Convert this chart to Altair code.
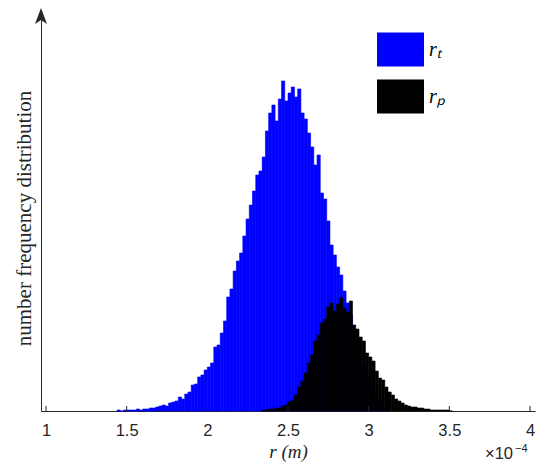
import altair as alt
import pandas as pd

# ---- data (heights in arbitrary count units) ----
bin_width = 0.02
rt_start = 1.44
rt_counts = [1, 0, 1, 1, 1, 1, 2, 1, 2, 2, 3, 3, 4, 5, 6, 5, 8, 9, 10, 14,
             12, 17, 19, 26, 27, 34, 36, 41, 44, 48, 64, 66, 78, 90, 114, 122, 140, 150, 158, 175,
             192, 206, 220, 236, 240, 254, 280, 298, 306, 290, 312, 330, 310, 318, 324, 314, 322, 298, 292, 278,
             264, 246, 256, 218, 212, 190, 166, 156, 144, 136, 120, 108, 96, 82, 70, 56, 46, 36, 28, 20,
             14, 9, 5, 2]
rp_start = 2.34
rp_counts = [1, 1, 2, 2, 3, 3, 5, 6, 9, 11, 16, 24, 30, 38, 48, 56, 70, 76, 88, 92,
             104, 108, 100, 107, 113, 103, 99, 110, 86, 82, 74, 70, 58, 54, 50, 40, 33, 31, 24, 19,
             16, 12, 10, 8, 6, 5, 4, 4, 3, 3, 2, 2, 1, 1, 1, 1, 1, 1, 0]
series_names = ["rₜ", "rₚ"]
series_colors = ["#0000ff", "#000000"]
x_ticks = [1, 1.5, 2, 2.5, 3, 3.5, 4]
x_title = "r (m)"
y_title = "number frequency distribution"
exponent_base = "×10"
exponent_power = "−4"

rows = []
for name, start, counts in [(series_names[0], rt_start, rt_counts),
                            (series_names[1], rp_start, rp_counts)]:
    for i, c in enumerate(counts):
        lo = round(start + i * bin_width, 4)
        rows.append({"series": name, "lo": lo, "hi": round(lo + bin_width, 4), "count": c})
df = pd.DataFrame(rows)

W, H = 494, 399
AX = "#262626"
xscale = alt.Scale(domain=[1, 4], nice=False, zero=False)
yscale = alt.Scale(domain=[0, 399], nice=False)
color_scale = alt.Scale(domain=series_names, range=series_colors)

x_axis = alt.Axis(values=x_ticks, labelFlush=False, ticks=False, grid=False,
                  labelExpr="datum.value == floor(datum.value) ? format(datum.value, 'd') : format(datum.value, '.1f')",
                  domainColor=AX, domainWidth=1, labelFont="Liberation Sans",
                  labelFontSize=16.5, labelColor=AX, labelPadding=11,
                  title=x_title, titleFont="Liberation Serif", titleFontStyle="italic",
                  titleFontWeight="normal", titleFontSize=19, titleColor=AX,
                  titleBaseline="alphabetic", titleY=46)

# tick marks pointing inward (drawn as rules), also carrying the x axis
tick_rules = alt.Chart(pd.DataFrame({"v": x_ticks})).mark_rule(color=AX, strokeWidth=1).encode(
    x=alt.X("v:Q", scale=xscale, axis=x_axis),
    y=alt.value(H),
    y2=alt.value(H - 5),
)

bars = alt.Chart(df).mark_bar(strokeWidth=0.6, orient="vertical").encode(
    x=alt.X("lo:Q", scale=xscale, axis=x_axis),
    x2="hi:Q",
    y=alt.Y("count:Q", scale=yscale,
            axis=alt.Axis(ticks=False, labels=False, grid=False, domainColor=AX, domainWidth=1,
                          title=y_title, titleFont="Liberation Serif", titleFontWeight="normal",
                          titleFontSize=21, titleColor=AX, titleBaseline="middle",
                          titleX=-17, titleY=206, titleAngle=270)),
    y2=alt.datum(0),
    color=alt.Color("series:N", scale=color_scale,
                    legend=alt.Legend(orient="none", legendX=336, legendY=14, title=None,
                                      symbolType="M-1,-0.723H1V0.723H-1Z", symbolSize=2209,
                                      symbolStrokeWidth=0, symbolOpacity=1,
                                      labelFont="Liberation Serif", labelFontStyle="italic",
                                      labelFontSize=20, labelColor="#000000", labelOffset=5,
                                      rowPadding=6, padding=0, symbolOffset=0)),
    stroke=alt.Stroke("series:N", scale=color_scale, legend=None),
)

arrow = alt.Chart(pd.DataFrame({"a": [0]})).mark_point(
    shape="M0,-1L0.75,1L0,0.5L-0.75,1Z", filled=True, size=256, color=AX, opacity=1
).encode(x=alt.value(0), y=alt.value(4))

exp_base = alt.Chart(pd.DataFrame({"t": [exponent_base]})).mark_text(
    font="Liberation Sans", fontSize=16.5, color=AX, align="left", baseline="alphabetic"
).encode(x=alt.value(444), y=alt.value(447), text="t:N")

exp_pow = alt.Chart(pd.DataFrame({"t": [exponent_power]})).mark_text(
    font="Liberation Sans", fontSize=11, color=AX, align="left", baseline="alphabetic"
).encode(x=alt.value(474), y=alt.value(440), text="t:N")

chart = alt.layer(bars, tick_rules, arrow, exp_base, exp_pow).properties(
    width=W, height=H,
    autosize=alt.AutoSizeParams(type="none"),
    padding={"left": 33, "top": 4, "right": 5, "bottom": 51},
).configure_view(stroke=None)

chart.save("out.html", embed_options={"renderer": "svg", "actions": False})
